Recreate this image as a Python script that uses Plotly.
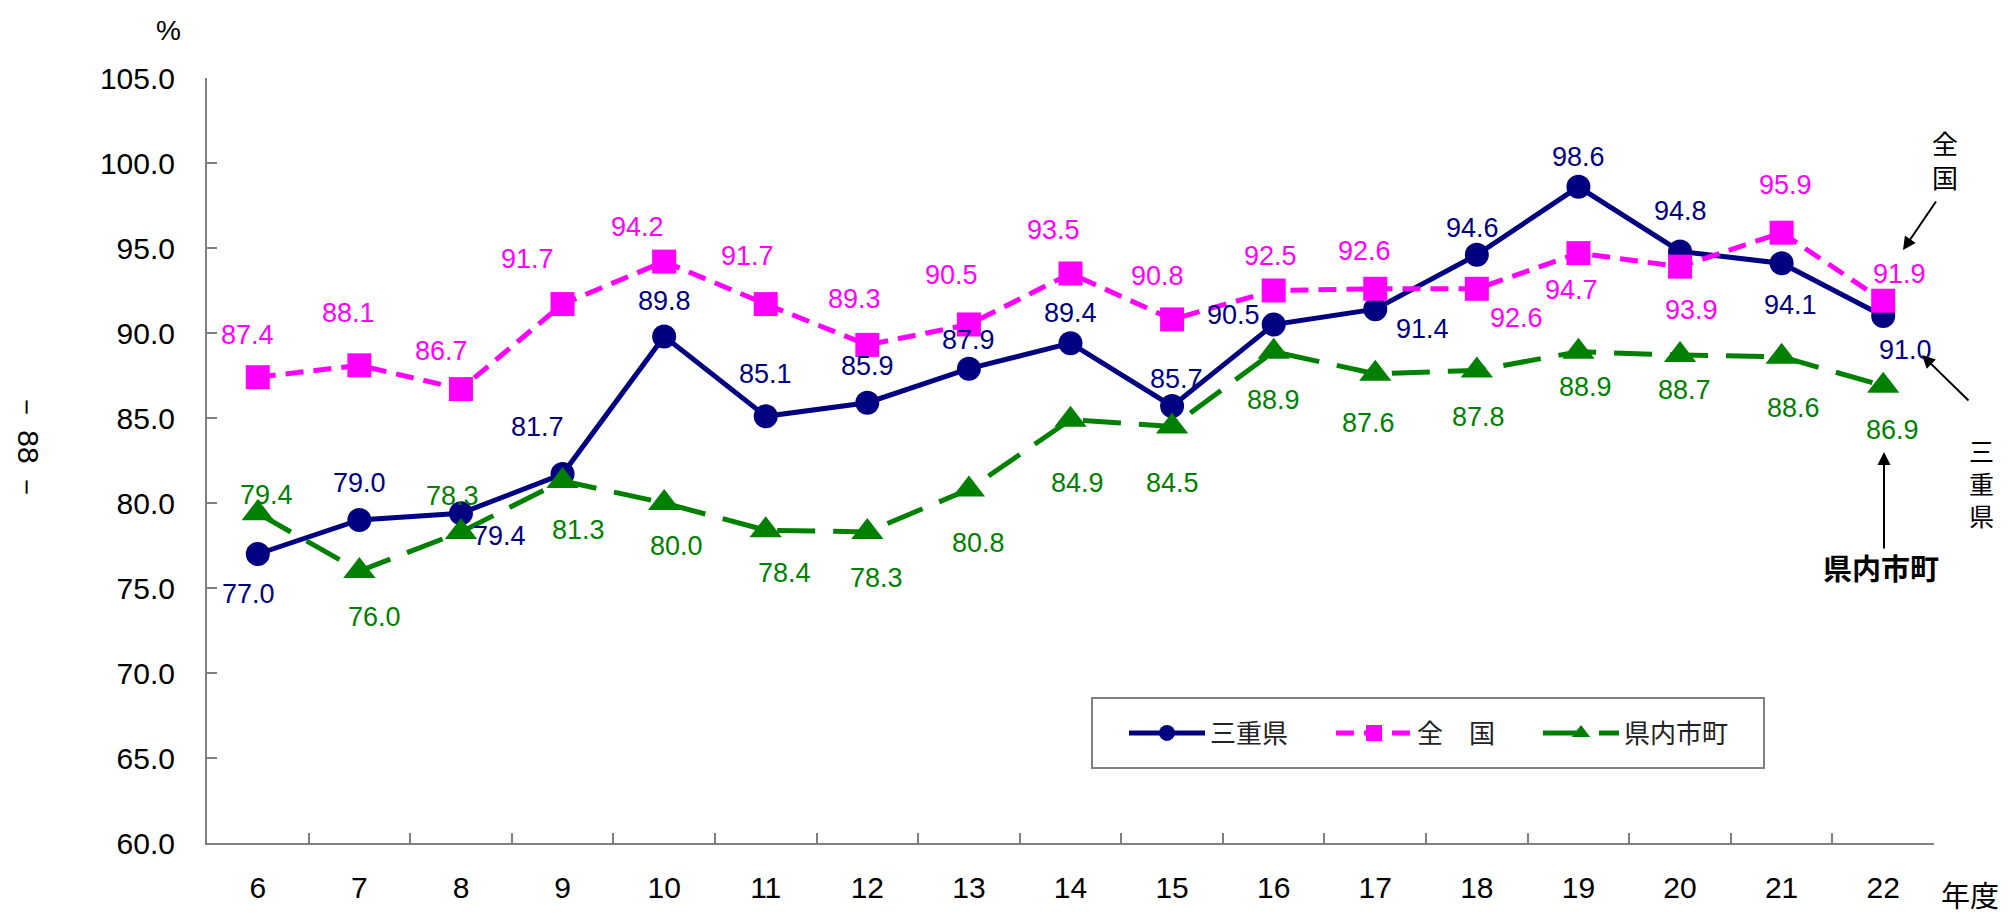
import plotly.graph_objects as go

# ---------------- data ----------------
years = ["6", "7", "8", "9", "10", "11", "12", "13", "14", "15", "16", "17", "18", "19", "20", "21", "22"]
mie = [77.0, 79.0, 79.4, 81.7, 89.8, 85.1, 85.9, 87.9, 89.4, 85.7, 90.5, 91.4, 94.6, 98.6, 94.8, 94.1, 91.0]
zenkoku = [87.4, 88.1, 86.7, 91.7, 94.2, 91.7, 89.3, 90.5, 93.5, 90.8, 92.5, 92.6, 92.6, 94.7, 93.9, 95.9, 91.9]
shichou = [79.4, 76.0, 78.3, 81.3, 80.0, 78.4, 78.3, 80.8, 84.9, 84.5, 88.9, 87.6, 87.8, 88.9, 88.7, 88.6, 86.9]
series_names = ["三重県", "全　国", "県内市町"]
y_ticks = [60, 65, 70, 75, 80, 85, 90, 95, 100, 105]

# ---------------- styles ----------------
colors = ["#000080", "#FF00FF", "#008000"]
dashes = ["solid", "18px,10px", "38px,18px"]
symbols = ["circle", "square", "triangle-up"]
msizes = [24, 24, 28]

# data label offsets in px (dx right, dy down)
mie_off = [(-9, 40), (0, -37), (39, 23), (-25, -47), (0, -35), (0, -42), (0, -37), (0, -29), (0, -30),
           (4, -27), (-40, -10), (47, 20), (-4, -27), (0, -30), (0, -40), (9, 42), (22, 34)]
zen_off = [(-10, -42), (-11, -52), (-19, -38), (-35, -45), (-27, -35), (-18, -48), (-13, -46), (-17, -50),
           (-17, -44), (-15, -43), (-3, -35), (-11, -38), (40, 29), (-7, 37), (11, 43), (4, -48), (16, -27)]
shi_off = [(9, -18), (15, 46), (-8, -36), (16, 49), (12, 43), (19, 43), (9, 46), (10, 54), (7, 63),
           (0, 56), (0, 48), (-7, 49), (2, 47), (7, 35), (4, 35), (12, 51), (9, 44)]

NUM_FONT = "Liberation Sans, Arial, sans-serif"
JP_FONT = "Noto Sans CJK JP, sans-serif"

W, H = 2008, 919
ML, MR, MT, MB = 207, 74, 78, 76

fig = go.Figure()
all_series = [mie, zenkoku, shichou]
all_offs = [mie_off, zen_off, shi_off]
for name, vals, c, d, s, ms in zip(series_names, all_series, colors, dashes, symbols, msizes):
    fig.add_trace(go.Scatter(
        x=years, y=vals, name=name, mode="lines+markers",
        line=dict(color=c, width=5, dash=d),
        marker=dict(symbol=s, size=ms, color=c),
    ))

annotations = []
for vals, offs, c in zip(all_series, all_offs, colors):
    for i, (yv, (dx, dy)) in enumerate(zip(vals, offs)):
        annotations.append(dict(
            x=i, y=yv, xref="x", yref="y", text=f"{yv:.1f}", showarrow=False,
            xanchor="center", yanchor="middle",
            xshift=dx, yshift=-dy, font=dict(family=NUM_FONT, size=27, color=c),
        ))

pw = W - ML - MR
ph = H - MT - MB


def px(xp):
    return (xp - ML) / pw


def py(yp):
    return (H - MB - yp) / ph


def side_text(xp, yp, text, size, family=JP_FONT, angle=0):
    return dict(x=px(xp), y=py(yp), xref="paper", yref="paper", text=text, showarrow=False,
                xanchor="center", yanchor="middle", textangle=angle,
                font=dict(family=family, size=size, color="#000"))


annotations += [
    side_text(168, 30, "%", 28, NUM_FONT),
    side_text(1970, 894, "年度", 29),
    side_text(28, 447, "－ 88 －", 30, NUM_FONT, 90),
    side_text(1945, 160, "全<br>国", 26),
    side_text(1982, 482, "三<br>重<br>県", 25),
    side_text(1881, 567, "<b>県内市町</b>", 29),
]
# arrows
for (tx, ty), (hx, hy) in [((1937, 200), (1903, 250)), ((1970, 402), (1922, 355)), ((1884, 550), (1884, 452))]:
    annotations.append(dict(
        x=px(hx), y=py(hy), xref="paper", yref="paper", text="", showarrow=True,
        ax=tx - hx, ay=ty - hy, axref="pixel", ayref="pixel",
        arrowhead=2, arrowsize=1.3, arrowwidth=2, arrowcolor="#000",
    ))

# legend frame
shapes = [dict(type="rect", xref="paper", yref="paper", x0=px(1092), x1=px(1764), y0=py(768), y1=py(698),
               line=dict(color="#808080", width=2), fillcolor="rgba(0,0,0,0)", layer="above")]

fig.update_layout(
    width=W, height=H,
    margin=dict(l=ML, r=MR, t=MT, b=MB, pad=0),
    paper_bgcolor="white", plot_bgcolor="white",
    showlegend=True,
    legend=dict(
        orientation="h", x=px(1124), y=py(733), xanchor="left", yanchor="middle",
        borderwidth=0, bgcolor="rgba(255,255,255,1)",
        font=dict(family=JP_FONT, size=26, color="#222"),
        itemwidth=76, entrywidth=116, entrywidthmode="pixels",
    ),
    annotations=annotations,
    shapes=shapes,
)
fig.update_xaxes(
    type="category", range=[-0.5, len(years) - 0.5], showline=True, linecolor="#7f7f7f", linewidth=2,
    ticks="inside", ticklen=10, tickwidth=2, tickcolor="#7f7f7f", tickson="boundaries",
    showgrid=False, zeroline=False, ticklabelstandoff=17,
    tickfont=dict(family=NUM_FONT, size=30, color="#000"),
)
fig.update_yaxes(
    range=[60, 105], tickvals=y_ticks, tickformat=".1f", showline=True, linecolor="#7f7f7f", linewidth=2,
    ticks="inside", ticklen=10, tickwidth=2, tickcolor="#7f7f7f",
    showgrid=False, zeroline=False, ticklabelstandoff=24,
    tickfont=dict(family=NUM_FONT, size=30, color="#000"),
)

fig.write_html("out.html", config={"displayModeBar": False},
               post_script="document.body.style.margin='0';")
